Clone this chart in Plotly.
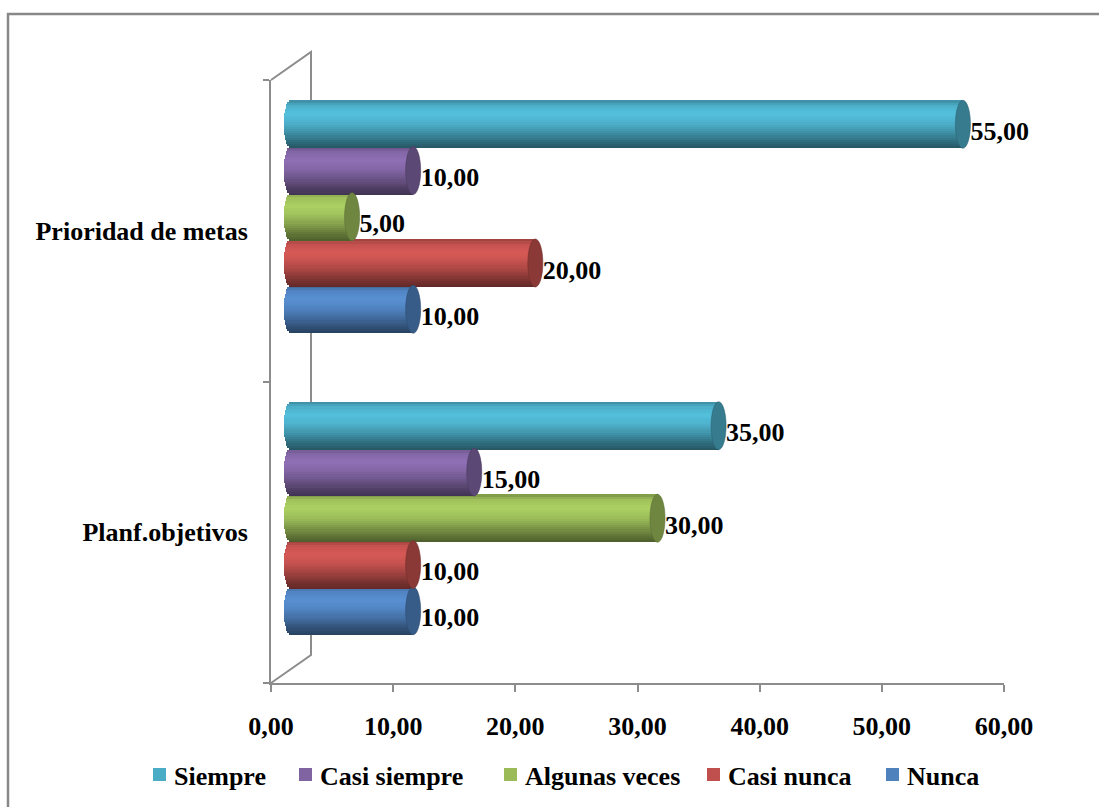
import numpy as np
import plotly.graph_objects as go

# ---- data ----
categories = ["Planf.objetivos", "Prioridad de metas"]
series_names = ["Nunca", "Casi nunca", "Algunas veces", "Casi siempre", "Siempre"]
nunca = [10, 10]
casi_nunca = [10, 20]
algunas_veces = [30, 5]
casi_siempre = [15, 10]
siempre = [35, 55]
series_values = [nunca, casi_nunca, algunas_veces, casi_siempre, siempre]
tick_values = [0, 10, 20, 30, 40, 50, 60]

colors = ["#4F81BD", "#C0504D", "#9BBB59", "#8064A2", "#4BACC6"]

# ---- page geometry (pixels) ----
W, H = 1099, 807
PL, PR, PT, PB = 271, 1004, 80, 683          # front plot frame
DX, DY = 20, 14                               # depth shift of the bar row
WX, WY = 40, 28                               # depth of the side wall
XMAX = 60
XPAD = 1.0                                    # room left of zero for the rounded bar ends
px_per_unit = (PR - PL) / XMAX
rx = 7.5 / px_per_unit                        # cylinder end-cap half width (data units)
slot = 0.1534                                 # vertical spacing between series
thick = 0.159                                 # cylinder diameter (category units)
N_STRIPS = 22

FONT = "Liberation Serif"
GRAY = "#8C8C8C"


def px_x(x):
    return x / W


def px_y(y):
    return 1 - y / H


def shade(hex_color, f):
    c = np.array([int(hex_color[i:i + 2], 16) for i in (1, 3, 5)], dtype=float)
    c = np.clip(c * f, 0, 255).astype(int)
    return "rgb({},{},{})".format(*c)


# brightness profile across the cylinder (t=-1 bottom, t=+1 top)
prof_t = [-1.0, -0.7, -0.3, 0.1, 0.45, 0.8, 1.0]
prof_f = [0.50, 0.64, 0.86, 1.04, 1.12, 1.02, 0.80]

fig = go.Figure()

# invisible trace so the category axis gets its labels
fig.add_trace(go.Scatter(x=[0, 0], y=categories, mode="markers",
                         marker=dict(opacity=0), showlegend=False,
                         hoverinfo="skip", xaxis="x", yaxis="y"))

edges = np.linspace(-1, 1, N_STRIPS + 1)
centers = (edges[:-1] + edges[1:]) / 2
shapes = []

for k, (name, vals, col) in enumerate(zip(series_names, series_values, colors)):
    row = [i + (k - 2) * slot for i in range(len(categories))]
    for t in centers:
        e = rx * np.sqrt(max(0.0, 1 - t * t))
        fig.add_trace(go.Bar(
            orientation="h",
            y=[r + t * thick / 2 for r in row],
            x=[v + e for v in vals],
            base=[-e] * len(vals),
            width=thick / N_STRIPS * 1.25,
            marker=dict(color=shade(col, float(np.interp(t, prof_t, prof_f))),
                        line=dict(width=0)),
            xaxis="x2", yaxis="y2", showlegend=False, hoverinfo="skip",
        ))
    # end caps of each cylinder
    for v, r in zip(vals, row):
        shapes.append(dict(type="circle", xref="x2", yref="y2",
                           x0=v - rx, x1=v + rx, y0=r - thick / 2, y1=r + thick / 2,
                           fillcolor=shade(col, 0.72),
                           line=dict(color=shade(col, 0.6), width=0.6),
                           layer="above"))
    # value labels
    fig.add_trace(go.Scatter(
        x=[v + rx for v in vals], y=[r - 0.03 for r in row],
        mode="text", text=[f"{v:.2f}".replace(".", ",") for v in vals],
        textposition="middle right", cliponaxis=False,
        textfont=dict(family=FONT, size=26, color="black", weight="bold"),
        xaxis="x2", yaxis="y2", showlegend=False, hoverinfo="skip",
    ))

# side wall of the 3-D frame
wall = "M {},{} L {},{} L {},{} L {},{}".format(
    px_x(PL), px_y(PT), px_x(PL + WX), px_y(PT - WY),
    px_x(PL + WX), px_y(PB - WY), px_x(PL), px_y(PB))
shapes.append(dict(type="path", xref="paper", yref="paper", path=wall,
                   line=dict(color=GRAY, width=2), layer="below"))

# outer chart border
shapes.append(dict(type="rect", xref="paper", yref="paper",
                   x0=px_x(8), y0=px_y(14), x1=1.02, y1=-0.02,
                   line=dict(color="#888888", width=2.5), layer="below"))

# legend (swatch + label)
legend_order = [4, 3, 2, 1, 0]
legend_x = [153, 299, 504, 707, 886]
annotations = []
for lx, k in zip(legend_x, legend_order):
    shapes.append(dict(type="rect", xref="paper", yref="paper",
                       x0=px_x(lx), x1=px_x(lx + 13), y0=px_y(768), y1=px_y(781),
                       fillcolor=colors[k], line=dict(width=0)))
    annotations.append(dict(xref="paper", yref="paper", x=px_x(lx + 19), y=px_y(776),
                            xanchor="left", yanchor="middle", showarrow=False,
                            text=series_names[k],
                            font=dict(family=FONT, size=26, color="black", weight="bold")))

fig.update_layout(
    width=W, height=H,
    margin=dict(l=0, r=0, t=0, b=0, autoexpand=False),
    paper_bgcolor="white", plot_bgcolor="rgba(0,0,0,0)",
    barmode="overlay", bargap=0,
    showlegend=False,
    separators=",.",
    shapes=shapes, annotations=annotations,
    xaxis=dict(domain=[px_x(PL), px_x(PR)], range=[0, XMAX], anchor="y",
               tickvals=tick_values, tickformat=".2f", automargin=False,
               showline=True, linecolor=GRAY, linewidth=2,
               ticks="outside", ticklen=7, tickcolor=GRAY, tickwidth=1.5,
               showgrid=False, zeroline=False, ticklabelstandoff=12,
               tickfont=dict(family=FONT, size=26, color="black", weight="bold")),
    yaxis=dict(domain=[px_y(PB), px_y(PT)], type="category",
               categoryorder="array", categoryarray=categories,
               range=[-0.5, 1.5], anchor="x", automargin=False,
               showline=True, linecolor=GRAY, linewidth=2,
               ticks="outside", ticklen=6, tickcolor=GRAY, tickwidth=1.5,
               tickson="boundaries", showgrid=False, zeroline=False,
               ticklabelstandoff=16,
               tickfont=dict(family=FONT, size=26, color="black", weight="bold")),
    xaxis2=dict(domain=[px_x(PL + DX - XPAD * px_per_unit), px_x(PR + DX)],
                range=[-XPAD, XMAX],
                anchor="y2", visible=False, automargin=False),
    yaxis2=dict(domain=[px_y(PB - DY), px_y(PT - DY)], range=[-0.5, 1.5],
                anchor="x2", visible=False, automargin=False),
)

fig.write_html("out.html")
